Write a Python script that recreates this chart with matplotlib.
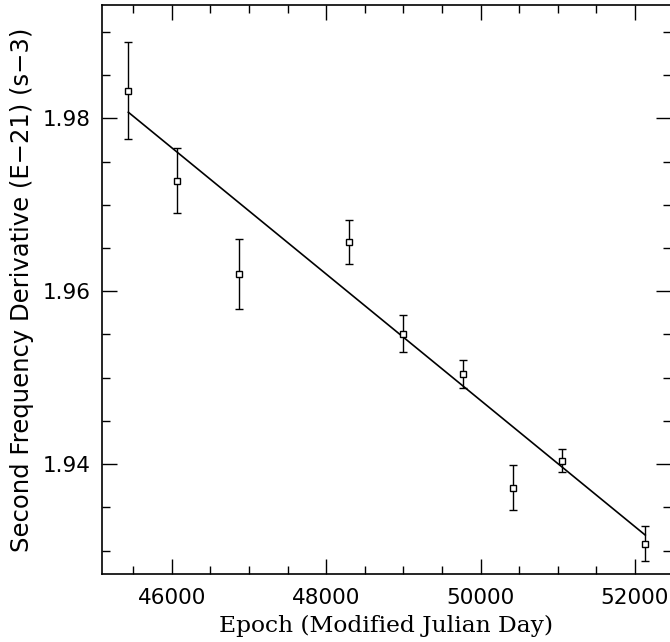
import matplotlib
matplotlib.use("Agg")
import matplotlib.pyplot as plt
from matplotlib.ticker import MultipleLocator

# epochs (MJD), second frequency derivative (1e-21 s^-3) and errors
epoch = [45438, 46073, 46875, 48292, 49000, 49768, 50424, 51050, 52133]
f2dot = [1.9832, 1.9728, 1.9620, 1.9657, 1.9551, 1.9504, 1.9373, 1.9404, 1.9308]
f2err = [0.0056, 0.0038, 0.0040, 0.0025, 0.0021, 0.0016, 0.0026, 0.0013, 0.0020]

# linear fit drawn across the data span
fit_x = [45438, 52133]
fit_y = [1.9807, 1.9318]

tick_font = {"family": "DejaVu Sans", "size": 15.5}
ylab_font = {"family": "DejaVu Sans", "size": 17.5}
xlab_font = {"family": "DejaVu Serif", "size": 16.8}

fig = plt.figure(figsize=(6.70, 6.42), dpi=100)
ax = fig.add_axes([101.7 / 670, 1 - 574 / 642, (670.5 - 101.7) / 670, (574 - 5) / 642])

ax.errorbar(epoch, f2dot, yerr=f2err, fmt="s", mfc="white", mec="black",
            ms=4.0, mew=1.0, ecolor="black", elinewidth=1.0, capsize=3, capthick=1.0)
ax.plot(fit_x, fit_y, color="black", lw=1.2)

ax.xaxis.set_major_locator(MultipleLocator(2000))
ax.xaxis.set_minor_locator(MultipleLocator(500))
ax.yaxis.set_major_locator(MultipleLocator(0.02))
ax.yaxis.set_minor_locator(MultipleLocator(0.005))
ax.tick_params(which="both", direction="in", top=True, right=True, width=1.0)
ax.tick_params(which="major", length=11, pad=8)
ax.tick_params(axis="x", which="major", pad=10)
ax.tick_params(which="minor", length=5.8)
for sp in ax.spines.values():
    sp.set_linewidth(1.2)

ax.set_xlim(45093, 52460)
ax.set_ylim(1.9273, 1.9931)
xt = [46000, 48000, 50000, 52000]
yt = [1.94, 1.96, 1.98]
ax.set_xticks(xt)
ax.set_xticklabels([str(v) for v in xt], fontdict=tick_font)
ax.set_yticks(yt)
ax.set_yticklabels([f"{v:.2f}" for v in yt], fontdict=tick_font)

ax.set_xlabel("Epoch (Modified Julian Day)", fontdict=xlab_font, labelpad=5)
ax.set_ylabel("Second Frequency Derivative (E\u221221) (s\u22123)", fontdict=ylab_font, labelpad=6)

fig.savefig("out.png", dpi=100)
